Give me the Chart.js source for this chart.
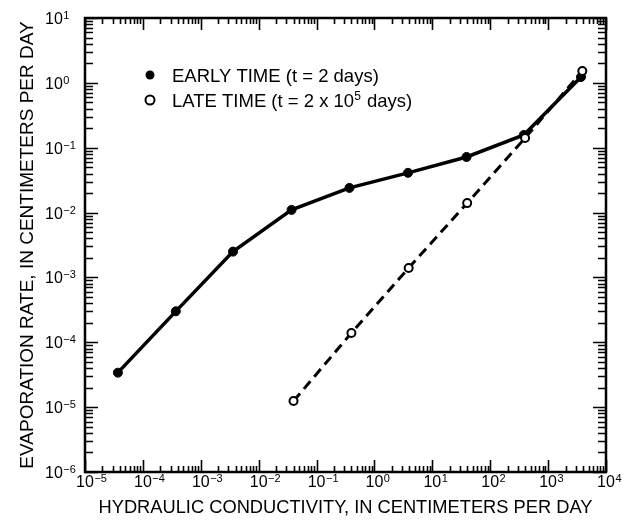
<!DOCTYPE html>
<html>
<head>
<meta charset="utf-8">
<script src="https://cdn.jsdelivr.net/npm/chart.js@4"></script>
<style>
  html, body { margin: 0; padding: 0; background: #fff; }
  #wrap { width: 625px; height: 523px; position: relative; }
</style>
</head>
<body>
<div id="wrap"><canvas id="c" width="625" height="523"></canvas></div>
<script>
// ---- data ----
const earlyLabel = ["EARLY TIME (t = 2 days)"];
const lateLabel = ["LATE TIME (t = 2 x 10", "5", " days)"];
const earlyK = [3.7e-5, 3.7e-4, 3.6e-3, 0.037, 0.37, 3.8, 39, 380, 3700];
const earlyRate = [3.4e-5, 3.0e-4, 2.5e-3, 0.011, 0.024, 0.041, 0.072, 0.157, 1.23];
const lateK = [0.04, 0.4, 3.9, 40, 400, 3900];
const lateRate = [1.24e-5, 1.39e-4, 1.4e-3, 0.014, 0.141, 1.52];
const xTickExps = [-5, -4, -3, -2, -1, 0, 1, 2, 3, 4];
const yTickExps = [-6, -5, -4, -3, -2, -1, 0, 1];
const xTitle = "HYDRAULIC CONDUCTIVITY, IN CENTIMETERS PER DAY";
const yTitle = "EVAPORATION RATE, IN CENTIMETERS PER DAY";

function logTicks(exps) {
  const t = [];
  for (let i = 0; i < exps.length; i++) {
    const e = exps[i];
    t.push({ value: Math.pow(10, e), major: true });
    if (i < exps.length - 1) {
      for (let m = 2; m <= 9; m++) t.push({ value: m * Math.pow(10, e), major: false });
    }
  }
  return t;
}
function isMajor(v) { const l = Math.log10(v); return Math.abs(l - Math.round(l)) < 1e-9; }

const FONT = "'Liberation Sans', Arial, Helvetica, sans-serif";

// draw "10" + superscript exponent; (x,y) = left x, baseline y of "10"
function drawPow(ctx, x, y, exp, big, small, raise) {
  ctx.font = big + "px " + FONT;
  ctx.fillText("10", x, y);
  const w = ctx.measureText("10").width;
  ctx.font = small + "px " + FONT;
  ctx.fillText(String(exp).replace("-", "\u2212"), x + w + 0.5, y - raise);
}

const frameTicks = {
  id: 'frameTicks',
  afterDatasetsDraw(chart) {
    const ctx = chart.ctx;
    const a = chart.chartArea;
    const xs = chart.scales.x, ys = chart.scales.y;
    ctx.save();
    ctx.strokeStyle = '#000';
    ctx.lineWidth = 1.6;
    ctx.beginPath();
    xs.ticks.forEach(t => {
      const p = Math.round(xs.getPixelForValue(t.value)) + 0.5;
      const L = isMajor(t.value) ? 12 : 6;
      ctx.moveTo(p, a.bottom); ctx.lineTo(p, a.bottom - L);
      ctx.moveTo(p, a.top); ctx.lineTo(p, a.top + L);
    });
    ys.ticks.forEach(t => {
      const p = Math.round(ys.getPixelForValue(t.value)) + 0.5;
      const L = isMajor(t.value) ? 13 : 8;
      ctx.moveTo(a.left, p); ctx.lineTo(a.left + L, p);
      ctx.moveTo(a.right, p); ctx.lineTo(a.right - L, p);
    });
    ctx.stroke();
    ctx.lineWidth = 2.5;
    ctx.strokeRect(a.left, a.top, a.right - a.left, a.bottom - a.top);

    // tick labels (powers of ten with superscript exponent)
    ctx.fillStyle = '#000';
    ctx.textBaseline = 'alphabetic';
    ctx.textAlign = 'left';
    ctx.font = "16px " + FONT;
    const w10 = ctx.measureText("10").width;
    xs.ticks.filter(t => isMajor(t.value)).forEach(t => {
      const p = xs.getPixelForValue(t.value);
      drawPow(ctx, p - w10 / 2, 487, Math.round(Math.log10(t.value)), 16, 11, 5);
    });
    ys.ticks.filter(t => isMajor(t.value)).forEach(t => {
      const p = ys.getPixelForValue(t.value);
      drawPow(ctx, 45, p + 6, Math.round(Math.log10(t.value)), 16, 11, 5);
    });

    // legend (inside plot)
    const items = chart.data.datasets.slice().sort((p, q) => (p.legendIndex - q.legendIndex));
    const lx = 150, ly = [75, 100];
    items.forEach((ds, i) => {
      ctx.beginPath();
      ctx.arc(lx, ly[i], 4.5, 0, Math.PI * 2);
      if (ds.filled) { ctx.fillStyle = '#000'; ctx.fill(); }
      else { ctx.fillStyle = '#fff'; ctx.fill(); ctx.lineWidth = 2; ctx.stroke(); }
      ctx.fillStyle = '#000';
      let x = 172;
      const base = ly[i] + 6.5;
      ds.labelParts.forEach((part, j) => {
        const sup = (ds.labelParts.length === 3 && j === 1);
        ctx.font = (sup ? 12 : 18.5) + "px " + FONT;
        ctx.fillText(part, x, sup ? base - 7 : base);
        x += ctx.measureText(part).width + (sup ? 1 : 0);
      });
    });
    ctx.restore();
  }
};

new Chart(document.getElementById('c'), {
  type: 'line',
  data: {
    datasets: [
      {
        label: earlyLabel.join(""), labelParts: earlyLabel, legendIndex: 0, filled: true, order: 1,
        data: earlyK.map((k, i) => ({ x: k, y: earlyRate[i] })),
        borderColor: '#000', backgroundColor: '#000', borderWidth: 3.5,
        pointRadius: 4.5, pointBackgroundColor: '#000', pointBorderColor: '#000', pointBorderWidth: 1,
        tension: 0
      },
      {
        label: lateLabel.join(""), labelParts: lateLabel, legendIndex: 1, filled: false, order: 0,
        data: lateK.map((k, i) => ({ x: k, y: lateRate[i] })),
        borderColor: '#000', backgroundColor: '#fff', borderWidth: 3, borderDash: [10, 6],
        pointRadius: 4, pointBackgroundColor: '#fff', pointBorderColor: '#000', pointBorderWidth: 2,
        tension: 0
      }
    ]
  },
  options: {
    responsive: false,
    animation: false,
    events: [],
    layout: { padding: { top: 18, right: 19, left: 0, bottom: 0 } },
    plugins: { legend: { display: false }, tooltip: { enabled: false } },
    scales: {
      x: {
        type: 'logarithmic', min: Math.pow(10, xTickExps[0]), max: Math.pow(10, xTickExps[xTickExps.length - 1]),
        afterBuildTicks: s => { s.ticks = logTicks(xTickExps); },
        afterFit: s => { s.height = 51; },
        grid: { display: false, drawTicks: false },
        border: { display: false },
        ticks: { display: false, autoSkip: false },
        title: { display: true, text: xTitle, color: '#000', font: { family: FONT, size: 18.3 }, padding: { top: 0, bottom: 4 } }
      },
      y: {
        type: 'logarithmic', min: Math.pow(10, yTickExps[0]), max: Math.pow(10, yTickExps[yTickExps.length - 1]),
        afterBuildTicks: s => { s.ticks = logTicks(yTickExps); },
        afterFit: s => { s.width = 85; },
        grid: { display: false, drawTicks: false },
        border: { display: false },
        ticks: { display: false, autoSkip: false },
        title: { display: true, text: yTitle, color: '#000', font: { family: FONT, size: 19 }, padding: { top: 16, bottom: 0 } }
      }
    }
  },
  plugins: [frameTicks]
});
</script>
</body>
</html>
